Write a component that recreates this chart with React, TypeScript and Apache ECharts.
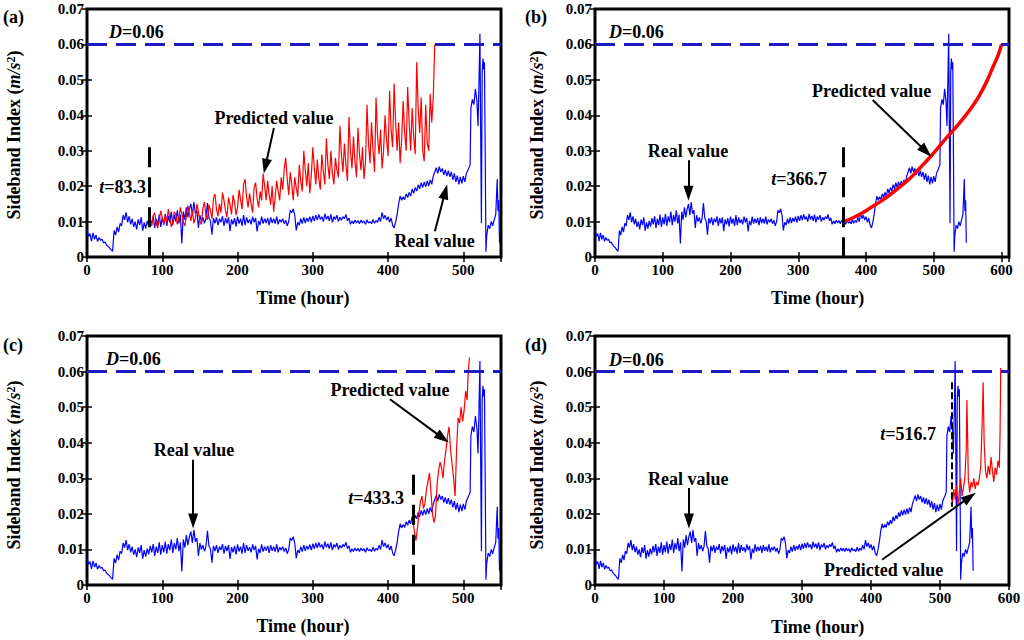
import React, { useEffect, useRef } from "react";
import * as echarts from "echarts";

const FONT = "'Liberation Serif', 'Times New Roman', Times, serif";

// ---------- DATA ----------
// Real value, sampled every 2 hours from 0 h to 506 h
const REAL_STEP = 2;
const realValues = [
  0.0078, 0.0058, 0.0066, 0.0045, 0.0068, 0.005, 0.0062, 0.0044, 0.0055, 0.0047,
  0.005, 0.004, 0.0042, 0.0034, 0.003, 0.0026, 0.002, 0.0016, 0.0075, 0.0062,
  0.0085, 0.007, 0.0095, 0.0088, 0.0118, 0.0105, 0.0126, 0.0098, 0.0115, 0.0092,
  0.0108, 0.0085, 0.01, 0.0078, 0.0106, 0.009, 0.0112, 0.0074, 0.0098, 0.008,
  0.0102, 0.0086, 0.011, 0.0092, 0.0115, 0.0082, 0.0108, 0.009, 0.012, 0.0085,
  0.0112, 0.0092, 0.0122, 0.0088, 0.0115, 0.0098, 0.0128, 0.009, 0.0118, 0.01,
  0.0132, 0.0095, 0.012, 0.0038, 0.0128, 0.0105, 0.014, 0.0112, 0.0135, 0.015,
  0.0118, 0.0155, 0.0122, 0.0132, 0.0082, 0.0118, 0.01, 0.0112, 0.0095, 0.0108,
  0.0152, 0.011, 0.0102, 0.0063, 0.011, 0.0095, 0.0112, 0.009, 0.0108, 0.0098,
  0.0115, 0.0088, 0.011, 0.0095, 0.0112, 0.0073, 0.0106, 0.0092, 0.011, 0.0086,
  0.0114, 0.0094, 0.0108, 0.0088, 0.0118, 0.009, 0.0112, 0.0096, 0.0106, 0.0092,
  0.0114, 0.0098, 0.011, 0.0072, 0.0102, 0.009, 0.0114, 0.0094, 0.0108, 0.0096,
  0.011, 0.009, 0.0112, 0.0096, 0.0108, 0.0094, 0.0114, 0.0092, 0.0106, 0.0098,
  0.0108, 0.0094, 0.0104, 0.0088, 0.01, 0.0132, 0.0125, 0.0136, 0.0118, 0.0075,
  0.0098, 0.009, 0.0108, 0.0094, 0.0112, 0.0096, 0.011, 0.01, 0.0114, 0.0098,
  0.0116, 0.0102, 0.0118, 0.0104, 0.012, 0.0106, 0.0114, 0.01, 0.0122, 0.0106,
  0.0116, 0.0102, 0.012, 0.0098, 0.0114, 0.0106, 0.0118, 0.01, 0.0112, 0.0104,
  0.0114, 0.0108, 0.012, 0.0102, 0.011, 0.0092, 0.0102, 0.0094, 0.0104, 0.0096,
  0.0103, 0.0094, 0.0104, 0.0096, 0.0102, 0.0092, 0.0105, 0.0096, 0.01, 0.0094,
  0.0106, 0.0095, 0.0103, 0.0098, 0.0112, 0.01, 0.0126, 0.0108, 0.0118, 0.0104,
  0.0114, 0.0098, 0.011, 0.009, 0.0082, 0.0098, 0.012, 0.015, 0.0172, 0.016,
  0.017, 0.0162, 0.0178, 0.0168, 0.0182, 0.0172, 0.0192, 0.018, 0.0196, 0.0186,
  0.0204, 0.0192, 0.021, 0.0196, 0.0212, 0.0198, 0.0215, 0.02, 0.0218, 0.0205,
  0.0228, 0.024, 0.0252, 0.0236, 0.0255, 0.024, 0.025, 0.0232, 0.0246, 0.0228,
  0.0244, 0.0226, 0.024, 0.0218, 0.0236, 0.0212, 0.023, 0.0205, 0.0226, 0.0208,
  0.0228, 0.0212, 0.0236, 0.0245,
];
// Real value, end of the record (irregular hours)
const realTailHours = [509, 510, 512, 514, 516, 518, 519.5, 521, 522, 523, 524, 525, 526, 527, 528, 529, 530, 531, 533, 535, 537, 539, 541, 543, 545, 546, 547, 548];
const realTailValues = [0.026, 0.042, 0.0445, 0.043, 0.0475, 0.044, 0.037, 0.052, 0.063, 0.035, 0.0095, 0.052, 0.056, 0.053, 0.055, 0.03, 0.0015, 0.006, 0.009, 0.008, 0.01, 0.0088, 0.0105, 0.012, 0.022, 0.013, 0.016, 0.004];

// (a) predicted from t=83.3, every 2 hours from 84 h to 460 h
const PRED_A_START = 84;
const PRED_A_STEP = 2;
const predAValues = [
  0.01, 0.0088, 0.0118, 0.0125, 0.0095, 0.0082, 0.0105, 0.013, 0.0112, 0.009,
  0.012, 0.0098, 0.0135, 0.011, 0.0085, 0.01, 0.0128, 0.0118, 0.0092, 0.0108,
  0.014, 0.0122, 0.0098, 0.0088, 0.0115, 0.0145, 0.0125, 0.0102, 0.0132, 0.0095,
  0.011, 0.015, 0.0128, 0.01, 0.0092, 0.0138, 0.0155, 0.0118, 0.0105, 0.0148,
  0.013, 0.0108, 0.0165, 0.0178, 0.0135, 0.0115, 0.015, 0.0125, 0.0182, 0.016,
  0.013, 0.0112, 0.0168, 0.0148, 0.012, 0.0175, 0.0155, 0.0118, 0.014, 0.019,
  0.0162, 0.0135, 0.0205, 0.022, 0.017, 0.014, 0.018, 0.015, 0.0125, 0.0195,
  0.021, 0.0165, 0.014, 0.0185, 0.016, 0.0235, 0.02, 0.016, 0.0215, 0.0175,
  0.0148, 0.02, 0.0128, 0.017, 0.0215, 0.0185, 0.016, 0.0225, 0.019, 0.025,
  0.028, 0.022, 0.0175, 0.024, 0.0205, 0.016, 0.0225, 0.0195, 0.017, 0.026,
  0.0215, 0.0185, 0.03, 0.0245, 0.02, 0.0265, 0.018, 0.023, 0.031, 0.025,
  0.0205, 0.0275, 0.022, 0.019, 0.029, 0.024, 0.0205, 0.0335, 0.026, 0.022,
  0.03, 0.0235, 0.0205, 0.028, 0.0245, 0.0225, 0.037, 0.029, 0.024, 0.032,
  0.026, 0.0215, 0.0395, 0.03, 0.025, 0.034, 0.027, 0.0225, 0.0365, 0.029,
  0.0245, 0.031, 0.022, 0.027, 0.043, 0.032, 0.0265, 0.038, 0.03, 0.024,
  0.045, 0.034, 0.029, 0.036, 0.025, 0.03, 0.04, 0.033, 0.0285, 0.047,
  0.036, 0.031, 0.049, 0.038, 0.03, 0.038, 0.0265, 0.033, 0.044, 0.035,
  0.03, 0.048, 0.038, 0.03, 0.042, 0.034, 0.029, 0.055, 0.042, 0.035,
  0.045, 0.03, 0.027, 0.043, 0.032, 0.03, 0.046, 0.038, 0.045,
];
const predATailHours = [462];
const predATailValues = [0.06];

// (b) predicted from t=366.7
const predBHours = [366.7, 380, 395, 410, 420, 435, 450, 465, 480, 495, 505, 518, 530, 543, 555, 567, 578, 587, 595, 600];
const predBValues = [0.01, 0.011, 0.0125, 0.0143, 0.0155, 0.0175, 0.0198, 0.0222, 0.0252, 0.0283, 0.0305, 0.0335, 0.036, 0.039, 0.042, 0.0455, 0.0495, 0.0535, 0.057, 0.06];

// (c) predicted from t=433.3
const predCHours = [433.3, 435, 437, 439, 441, 443, 445, 447, 449, 451, 453, 455, 457, 459, 461, 463, 465, 467, 469, 471, 473, 475, 477, 479, 481, 483, 485, 487, 489, 491, 493, 495, 497, 499, 501, 503, 505, 506, 508];
const predCValues = [0.0175, 0.015, 0.0125, 0.016, 0.02, 0.0235, 0.025, 0.0215, 0.023, 0.027, 0.029, 0.0315, 0.026, 0.02, 0.0175, 0.0195, 0.028, 0.032, 0.0345, 0.033, 0.03, 0.035, 0.038, 0.042, 0.0445, 0.038, 0.034, 0.03, 0.025, 0.038, 0.047, 0.0455, 0.05, 0.046, 0.049, 0.0545, 0.052, 0.058, 0.064];

// (d) predicted from t=516.7
const predDHours = [516.7, 518, 520, 522, 524, 526, 528, 530, 532, 534, 536, 538, 539, 540, 541, 543, 545, 547, 549, 551, 553, 555, 557, 559, 561, 562.5, 564, 566, 568, 570, 572, 574, 576, 578, 580, 582, 584, 586, 587, 588];
const predDValues = [0.0245, 0.023, 0.027, 0.024, 0.028, 0.0225, 0.026, 0.03, 0.025, 0.0275, 0.03, 0.038, 0.052, 0.042, 0.03, 0.026, 0.029, 0.0275, 0.03, 0.027, 0.029, 0.028, 0.03, 0.033, 0.045, 0.057, 0.04, 0.032, 0.03, 0.0335, 0.031, 0.036, 0.032, 0.029, 0.033, 0.031, 0.035, 0.033, 0.042, 0.061];

const threshold = 0.06;
const yTicks = [0, 0.01, 0.02, 0.03, 0.04, 0.05, 0.06, 0.07];

// ---------- build points ----------
const realPoints = realValues
  .map((v, i) => [i * REAL_STEP, v])
  .concat(realTailHours.map((h, i) => [h, realTailValues[i]]));
const predAPoints = predAValues
  .map((v, i) => [PRED_A_START + i * PRED_A_STEP, v])
  .concat(predATailHours.map((h, i) => [h, predATailValues[i]]));
const zip = (hs: number[], vs: number[]) => hs.map((h, i) => [h, vs[i]]);

// ---------- layout ----------
const panels = [
  {
    tag: "(a)", tagPos: [3, 17],
    grid: { left: 87, top: 9, width: 414, height: 248 }, xMax: 550,
    pred: predAPoints, predSmooth: false, predWidth: 1.2,
    tTime: 83.3, tLabel: "83.3", tTop: 0.031, tWidth: 3, tDash: [20, 10],
    tTextPos: [146, 187], dPos: [109, 32],
    realText: [434.5, 241], predText: [274, 118],
    realArrow: [[462.2, 0.0073], [475.9, 0.0184]],
    predArrow: [[248.3, 0.0364], [237, 0.0256]],
    yTitle: [14, 135], xTitle: [303, 298],
  },
  {
    tag: "(b)", tagPos: [525, 17],
    grid: { left: 595, top: 9, width: 414, height: 248 }, xMax: 611,
    pred: zip(predBHours, predBValues), predSmooth: true, predWidth: 3.5,
    tTime: 366.7, tLabel: "366.7", tTop: 0.031, tWidth: 3, tDash: [20, 10],
    tTextPos: [827, 179], dPos: [609, 32],
    realText: [688, 151], predText: [871.7, 91],
    realArrow: [[137.9, 0.0273], [137.9, 0.018]],
    predArrow: [[409.8, 0.0443], [488.5, 0.0298]],
    yTitle: [537, 135], xTitle: [817.7, 298],
  },
  {
    tag: "(c)", tagPos: [3, 345],
    grid: { left: 87, top: 336, width: 414, height: 249 }, xMax: 550,
    pred: zip(predCHours, predCValues), predSmooth: false, predWidth: 1.2,
    tTime: 433.3, tLabel: "433.3", tTop: 0.031, tWidth: 3, tDash: [20, 10],
    tTextPos: [404, 498], dPos: [106, 359],
    realText: [194, 450], predText: [390, 390],
    realArrow: [[141, 0.0352], [141, 0.018]],
    predArrow: [[402.5, 0.0522], [472.6, 0.0413]],
    yTitle: [14, 465], xTitle: [303, 626],
  },
  {
    tag: "(d)", tagPos: [525, 345],
    grid: { left: 595, top: 336, width: 414, height: 249 }, xMax: 600,
    pred: zip(predDHours, predDValues), predSmooth: false, predWidth: 1.2,
    tTime: 516.7, tLabel: "516.7", tTop: 0.057, tBottom: 0.022, tWidth: 2, tDash: [7, 3],
    tTextPos: [936, 434], dPos: [609, 360],
    realText: [688.3, 479], predText: [883.7, 570],
    realArrow: [[136.1, 0.0273], [136.1, 0.018]],
    predArrow: [[416, 0.0071], [542.9, 0.0247]],
    yTitle: [537, 465], xTitle: [817.7, 626.7],
  },
];

const BLUE = "#0000ff";
const RED = "#ff0000";
const DASH_BLUE = "#1c1cc4";

const rich = {
  n: { fontFamily: FONT, fontWeight: "bold", fontSize: 18, fill: "#000", color: "#000" },
  i: { fontFamily: FONT, fontWeight: "bold", fontStyle: "italic", fontSize: 18, fill: "#000", color: "#000" },
  s: { fontFamily: FONT, fontWeight: "bold", fontSize: 12, fill: "#000", color: "#000", verticalAlign: "top" },
};

const text = (x: number, y: number, t: string, align: string, rotation = 0, size = 18) => ({
  type: "text",
  x,
  y,
  rotation,
  silent: true,
  style: {
    text: t,
    rich,
    font: `bold ${size}px ${FONT}`,
    fill: "#000",
    align,
    verticalAlign: "middle",
    textAlign: align,
    textVerticalAlign: "middle",
  },
});

function buildOption() {
  const grid: any[] = [];
  const xAxis: any[] = [];
  const yAxis: any[] = [];
  const series: any[] = [];
  const graphic: any[] = [];
  const tickStyle = { color: "#000", width: 1.5 };
  const labelStyle = { fontFamily: FONT, fontWeight: "bold", fontSize: 15, color: "#000" };

  panels.forEach((p, i) => {
    grid.push({ ...p.grid, show: true, borderColor: "#000", borderWidth: 3, backgroundColor: "transparent" });
    const xBase = {
      gridIndex: i, type: "value", min: 0, max: p.xMax, interval: 100,
      axisLine: { show: false }, splitLine: { show: false },
      axisTick: { inside: true, length: 5, lineStyle: tickStyle },
    };
    xAxis.push({ ...xBase, position: "bottom", axisLabel: { ...labelStyle, margin: 5, showMaxLabel: p.xMax % 100 === 0, showMinLabel: true } });
    xAxis.push({ ...xBase, position: "top", axisLabel: { show: false } });
    const yBase = {
      gridIndex: i, type: "value", min: 0, max: 0.07, interval: 0.01,
      axisLine: { show: false }, splitLine: { show: false },
      axisTick: { inside: true, length: 5, lineStyle: tickStyle },
    };
    yAxis.push({
      ...yBase, position: "left",
      axisLabel: {
        ...labelStyle, margin: 3,
        formatter: (v: number) => {
          const t = yTicks.find((k) => Math.abs(k - v) < 1e-9);
          return t === undefined ? "" : t === 0 ? "0" : t.toFixed(2);
        },
      },
    });
    yAxis.push({ ...yBase, position: "right", axisLabel: { show: false } });

    const xi = i * 2;
    series.push({
      type: "line", name: "Real value", xAxisIndex: xi, yAxisIndex: xi,
      data: realPoints, showSymbol: false, symbol: "none",
      lineStyle: { color: BLUE, width: 1.2 }, z: 2,
    });
    const arrowEnd = { symbol: "triangle", symbolSize: [10, 15] };
    series.push({
      type: "line", name: "Predicted value", xAxisIndex: xi, yAxisIndex: xi,
      data: p.pred, showSymbol: false, symbol: "none", smooth: p.predSmooth ? 0.4 : false,
      lineStyle: { color: RED, width: p.predWidth }, z: 3,
      markLine: {
        silent: true, animation: false, symbol: ["none", "none"], label: { show: false },
        emphasis: { disabled: true },
        data: [
          [
            { coord: [0, threshold], lineStyle: { color: DASH_BLUE, width: 3, type: [20, 9] } },
            { coord: [p.xMax, threshold] },
          ],
          [
            { coord: [p.tTime, p.tTop], lineStyle: { color: "#000", width: p.tWidth, type: p.tDash } },
            { coord: [p.tTime, (p as any).tBottom ?? 0] },
          ],
          [
            { coord: p.realArrow[0], symbol: "none", lineStyle: { color: "#000", width: 2, type: "solid" } },
            { coord: p.realArrow[1], ...arrowEnd, itemStyle: { color: "#000" } },
          ],
          [
            { coord: p.predArrow[0], symbol: "none", lineStyle: { color: "#000", width: 2, type: "solid" } },
            { coord: p.predArrow[1], ...arrowEnd, itemStyle: { color: "#000" } },
          ],
        ],
      },
    });

    graphic.push(text(p.tagPos[0], p.tagPos[1], "{n|" + p.tag + "}", "left"));
    graphic.push(text(p.dPos[0], p.dPos[1], "{i|D}{n|=0.06}", "left"));
    graphic.push(text(p.tTextPos[0], p.tTextPos[1], "{i|t}{n|=" + p.tLabel + "}", "right"));
    graphic.push(text(p.realText[0], p.realText[1], "{n|Real value}", "center"));
    graphic.push(text(p.predText[0], p.predText[1], "{n|Predicted value}", "center"));
    graphic.push(text(p.xTitle[0], p.xTitle[1], "{n|Time (hour)}", "center"));
    graphic.push(text(p.yTitle[0], p.yTitle[1], "{n|Sideband Index (}{i|m/s}{s|2}{n|)}", "center", Math.PI / 2));
  });

  return {
    animation: false,
    backgroundColor: "#ffffff",
    grid, xAxis, yAxis, series, graphic,
  };
}

export default function App() {
  const ref = useRef<HTMLDivElement>(null);
  useEffect(() => {
    if (!ref.current) return;
    const chart = echarts.init(ref.current, null, { renderer: "svg" });
    chart.setOption(buildOption() as any);
    return () => chart.dispose();
  }, []);
  return <div ref={ref} style={{ position: "absolute", left: 0, top: 0, width: 1024, height: 640 }} />;
}
